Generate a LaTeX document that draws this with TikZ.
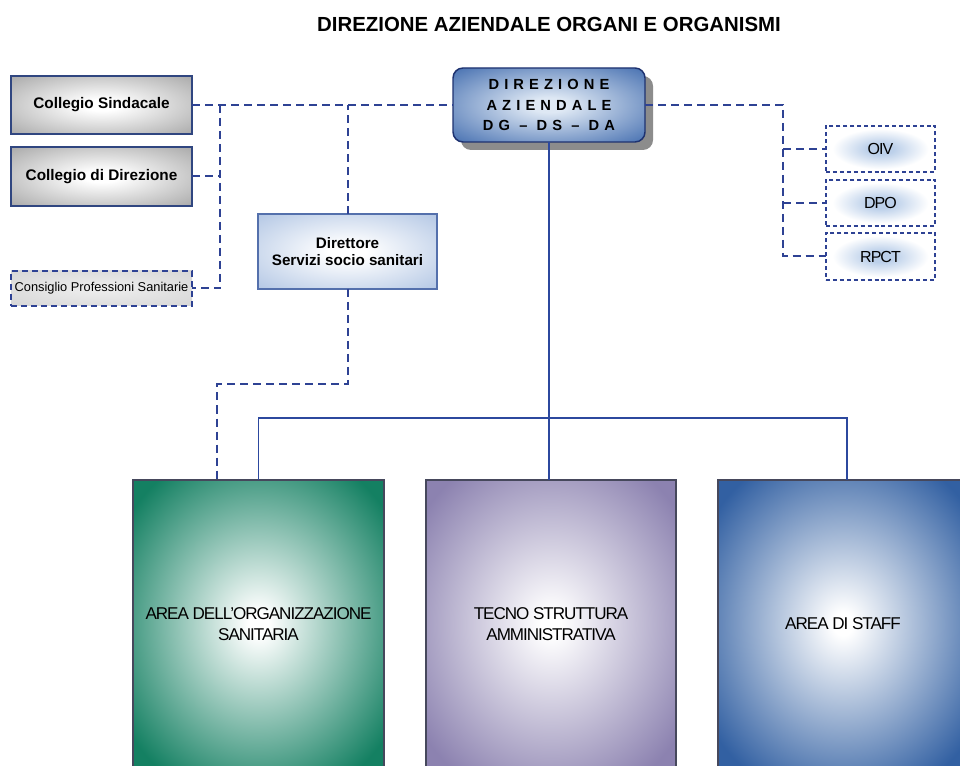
\documentclass[tikz,border=0pt]{standalone}
\usepackage{fontspec}
\setmainfont{Liberation Sans}
\newfontfamily\narrowfont[LetterSpace=-6]{Liberation Sans}
\newfontfamily\spacedfont[LetterSpace=35]{Liberation Sans}
\usetikzlibrary{shadows}

\definecolor{areagreen}{RGB}{20,128,98}
\definecolor{areapurple}{RGB}{140,130,176}
\definecolor{areablue}{RGB}{50,96,162}
\definecolor{dirblue}{RGB}{78,118,180}
\definecolor{dirlight}{RGB}{222,232,244}
\definecolor{dssblue}{RGB}{178,198,228}
\definecolor{colgray}{RGB}{168,168,168}
\definecolor{glowblue}{RGB}{188,208,234}
\definecolor{cpsgray}{RGB}{214,214,214}
\definecolor{lineblue}{RGB}{46,66,148}
\definecolor{solidblue}{RGB}{44,72,158}
\definecolor{colborder}{RGB}{48,70,128}
\definecolor{dssborder}{RGB}{84,112,172}
\definecolor{dirborder}{RGB}{30,50,112}
\definecolor{areaborder}{RGB}{70,72,92}

\pgfdeclareradialshading{sgreen}{\pgfpoint{0bp}{0bp}}{color(0bp)=(white); color(2bp)=(white); color(32bp)=(areagreen); color(50bp)=(areagreen)}
\pgfdeclareradialshading{spurple}{\pgfpoint{0bp}{0bp}}{color(0bp)=(white); color(2bp)=(white); color(32bp)=(areapurple); color(50bp)=(areapurple)}
\pgfdeclareradialshading{sblue}{\pgfpoint{0bp}{0bp}}{color(0bp)=(white); color(2bp)=(white); color(32bp)=(areablue); color(50bp)=(areablue)}
\pgfdeclareradialshading{sdir}{\pgfpoint{0bp}{0bp}}{color(0bp)=(dirlight); color(5bp)=(dirlight); color(34bp)=(dirblue); color(50bp)=(dirblue)}
\pgfdeclareradialshading{sdss}{\pgfpoint{0bp}{0bp}}{color(0bp)=(white); color(5bp)=(white); color(36bp)=(dssblue); color(50bp)=(dssblue)}
\pgfdeclareradialshading{sgray}{\pgfpoint{0bp}{0bp}}{color(0bp)=(white); color(5bp)=(white); color(36bp)=(colgray); color(50bp)=(colgray)}
\pgfdeclareradialshading{scps}{\pgfpoint{0bp}{0bp}}{color(0bp)=(white!60!cpsgray); color(36bp)=(cpsgray); color(50bp)=(cpsgray)}
\pgfdeclareradialshading{sglow}{\pgfpoint{0bp}{0bp}}{color(0bp)=(glowblue); color(6bp)=(glowblue); color(22bp)=(white); color(50bp)=(white)}

\begin{document}
\begin{tikzpicture}[x=0.75pt,y=-0.75pt,
  sz/.style 2 args={minimum width=#1*0.75pt, minimum height=#2*0.75pt, inner sep=0pt, outer sep=0pt},
  dline/.style={draw=lineblue, line width=1.5pt, dash pattern=on 6pt off 3.75pt},
  sline/.style={draw=solidblue, line width=1.4pt},
  colbox/.style={shade, shading=sgray, draw=colborder, line width=1.5pt, font=\bfseries\fontsize{11.5}{13}\selectfont},
  cpsbox/.style={shade, shading=scps, draw=lineblue, line width=1.3pt, dash pattern=on 4.5pt off 3pt, font=\fontsize{9.6}{11}\selectfont},
  dssbox/.style={shade, shading=sdss, draw=dssborder, line width=0.9pt, align=center, font=\bfseries\fontsize{11.4}{13}\selectfont},
  dirbox/.style={shade, shading=sdir, draw=dirborder, line width=1.1pt, rounded corners=7.5pt, align=center,
    drop shadow={shadow xshift=6pt, shadow yshift=-6pt, fill=black!45, opacity=1},
    font=\spacedfont\bfseries\fontsize{11}{15.4}\selectfont},
  smallbox/.style={shade, shading=sglow, draw=lineblue, line width=1.2pt, dash pattern=on 3pt off 2.2pt, font=\narrowfont\fontsize{12}{14}\selectfont},
  areabox/.style={shade, draw=areaborder, line width=0.8pt, align=center, font=\narrowfont\fontsize{12.8}{15.5}\selectfont},
  titletext/.style={font=\bfseries\fontsize{15.3}{18}\selectfont, inner sep=0pt}
]
\useasboundingbox (0,0) rectangle (960,766);
\clip (0,0) rectangle (960,766);
\fill[white] (0,0) rectangle (960,766);

\node[titletext] (title) at (549,24) {DIREZIONE AZIENDALE ORGANI E ORGANISMI};

% top-left boxes
\node[colbox, sz={181}{58}] (cs) at (101.5,105) {Collegio Sindacale};
\node[colbox, sz={181}{59}] (cd) at (101.5,176.5) {Collegio di Direzione};
\node[cpsbox, sz={181}{35}] (cps) at (101.5,288.5) {Consiglio Professioni Sanitarie};

% direction
\node[dirbox, sz={192}{74}] (dir) at (549,105) {DIREZIONE\\AZIENDALE\\DG – DS – DA};

% direttore servizi socio sanitari
\node[dssbox, sz={179}{75}] (dss) at (347.5,251.5) {Direttore\\Servizi socio sanitari};

% right boxes
\node[smallbox, sz={109}{46}] (oiv) at (880.5,149) {OIV};
\node[smallbox, sz={109}{46}] (dpo) at (880.5,203) {DPO};
\node[smallbox, sz={109}{47}] (rpct) at (880.5,256.5) {RPCT};

% areas
\node[areabox, shading=sgreen, sz={251}{288}] (aos) at (258.5,624) {AREA DELL’ORGANIZZAZIONE\\SANITARIA};
\node[areabox, shading=spurple, sz={250}{288}] (tsa) at (551,624) {TECNO STRUTTURA\\AMMINISTRATIVA};
\node[areabox, shading=sblue, sz={250}{288}] (ads) at (843,624) {AREA DI STAFF};

% dashed connectors
\coordinate (jl) at (220,105);
\coordinate (jr) at (783,105);
\coordinate (kd) at (217,384);
\draw[dline] (cs.east) -- (dir.west);
\draw[dline] (jl) |- (cps.east);
\draw[dline] (cd.east) -- (cd.east -| jl);
\draw[dline] (dss.north) -- (dss.north |- cs.east);
\draw[dline] (dir.east) -- (jr) |- (rpct.west);
\draw[dline] (jr |- oiv.west) -- (oiv.west);
\draw[dline] (jr |- dpo.west) -- (dpo.west);
\draw[dline] (dss.south) |- (kd) -- (kd |- aos.north);

% solid connectors
\coordinate (hr) at (847,418);
\draw[sline] (dir.south) -- (dir.south |- tsa.north);
\draw[sline] (aos.north) -- (aos.north |- hr) -- (hr) -- (hr |- ads.north);
\end{tikzpicture}
\end{document}
